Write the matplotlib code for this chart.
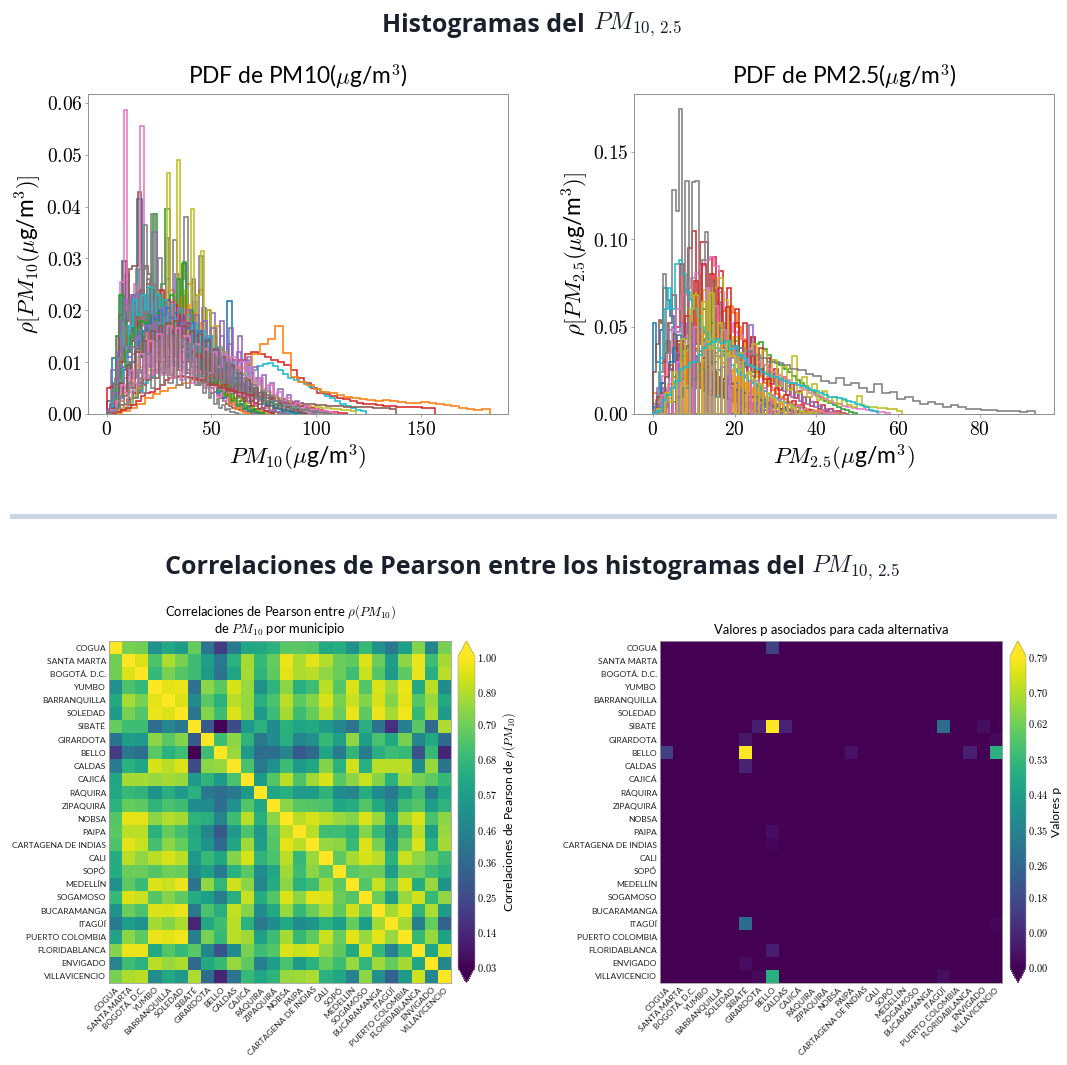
import numpy as np
import matplotlib
matplotlib.use('Agg')
import matplotlib.pyplot as plt
from matplotlib.patches import Rectangle
from matplotlib.ticker import FuncFormatter

plt.rcParams['mathtext.fontset'] = 'cm'
plt.rcParams['font.family'] = ['Lato', 'DejaVu Sans']

municipios = ['COGUA', 'SANTA MARTA', 'BOGOTÁ. D.C.', 'YUMBO', 'BARRANQUILLA', 'SOLEDAD', 'SIBATÉ',
              'GIRARDOTA', 'BELLO', 'CALDAS', 'CAJICÁ', 'RÁQUIRA', 'ZIPAQUIRÁ', 'NOBSA', 'PAIPA',
              'CARTAGENA DE INDIAS', 'CALI', 'SOPÓ', 'MEDELLÍN', 'SOGAMOSO', 'BUCARAMANGA', 'ITAGÜÍ',
              'PUERTO COLOMBIA', 'FLORIDABLANCA', 'ENVIGADO', 'VILLAVICENCIO']

# pearson matrix
corr = [
    [1.00,.80,.79,.52,.62,.56,.77,.40,.20,.43,.60,.62,.65,.75,.75,.74,.62,.63,.53,.68,.53,.42,.58,.82,.47,.80],
    [.79,1.00,.95,.73,.88,.80,.70,.57,.42,.65,.87,.68,.77,.97,.88,.96,.89,.78,.76,.95,.78,.57,.83,.97,.70,.87],
    [.79,.95,1.00,.68,.80,.74,.70,.55,.40,.60,.87,.66,.76,.96,.88,.90,.84,.78,.70,.92,.74,.55,.76,.97,.64,.90],
    [.52,.73,.68,1.00,.96,.97,.40,.83,.75,.94,.85,.53,.66,.83,.64,.70,.90,.74,.95,.74,.95,.86,.97,.62,.90,.50],
    [.62,.87,.80,.96,1.00,.95,.49,.75,.65,.90,.85,.64,.72,.90,.76,.82,.94,.80,.92,.82,.94,.82,.96,.74,.85,.62],
    [.56,.80,.74,.97,.95,1.00,.41,.82,.70,.95,.85,.55,.70,.87,.70,.77,.90,.78,.97,.76,.97,.87,.98,.68,.88,.55],
    [.77,.70,.70,.38,.48,.41,1.00,.30,.03,.25,.55,.65,.50,.65,.60,.62,.55,.48,.40,.64,.40,.16,.45,.75,.36,.88],
    [.40,.57,.55,.83,.75,.82,.30,1.00,.70,.83,.66,.42,.50,.64,.47,.52,.68,.58,.84,.57,.72,.62,.80,.47,.62,.37],
    [.20,.42,.38,.75,.65,.70,.03,.70,1.00,.85,.55,.38,.38,.47,.30,.36,.60,.43,.67,.44,.64,.70,.68,.28,.68,.13],
    [.43,.65,.60,.94,.90,.95,.25,.83,.85,1.00,.72,.42,.52,.70,.55,.60,.82,.65,.93,.64,.90,.90,.90,.50,.85,.40],
    [.60,.87,.87,.85,.87,.85,.55,.66,.55,.72,1.00,.56,.74,.90,.73,.86,.94,.75,.83,.92,.82,.65,.86,.80,.76,.68],
    [.62,.68,.66,.53,.64,.55,.65,.42,.38,.42,.56,1.00,.60,.64,.55,.56,.66,.50,.47,.63,.50,.42,.58,.70,.45,.60],
    [.65,.77,.76,.66,.72,.70,.50,.50,.38,.52,.74,.60,1.00,.83,.75,.74,.72,.61,.63,.74,.62,.50,.70,.74,.57,.66],
    [.74,.96,.96,.83,.89,.87,.66,.64,.47,.70,.90,.64,.83,1.00,.90,.94,.90,.85,.82,.95,.85,.62,.87,.95,.72,.83],
    [.75,.90,.90,.65,.77,.71,.62,.47,.30,.55,.73,.55,.75,.90,1.00,.90,.70,.70,.65,.82,.68,.50,.70,.90,.58,.85],
    [.73,.96,.92,.71,.83,.77,.63,.53,.36,.60,.86,.57,.74,.96,.90,1.00,.85,.83,.68,.95,.80,.54,.78,.95,.65,.87],
    [.63,.90,.84,.90,.94,.90,.55,.68,.60,.82,.94,.66,.72,.90,.68,.85,1.00,.76,.87,.94,.90,.65,.92,.84,.78,.70],
    [.63,.78,.78,.74,.79,.78,.50,.58,.43,.65,.75,.50,.61,.86,.70,.83,.76,1.00,.75,.78,.78,.57,.78,.78,.70,.65],
    [.53,.76,.69,.95,.92,.97,.40,.84,.67,.93,.83,.47,.63,.83,.65,.70,.87,.76,1.00,.74,.92,.76,.95,.63,.85,.53],
    [.68,.95,.92,.74,.82,.76,.63,.57,.44,.64,.92,.63,.74,.95,.83,.96,.95,.78,.74,1.00,.78,.57,.85,.93,.68,.84],
    [.53,.78,.73,.95,.94,.97,.42,.72,.64,.91,.82,.50,.62,.85,.68,.78,.88,.76,.93,.78,1.00,.87,.96,.66,.88,.55],
    [.43,.57,.53,.87,.82,.88,.13,.62,.70,.90,.65,.42,.50,.62,.50,.54,.65,.57,.77,.57,.87,1.00,.87,.45,.77,.33],
    [.59,.83,.76,.97,.96,.98,.45,.80,.68,.90,.86,.58,.70,.87,.68,.76,.92,.78,.96,.85,.96,.85,1.00,.68,.85,.58],
    [.82,.97,.97,.62,.74,.68,.75,.47,.28,.50,.80,.70,.74,.95,.92,.95,.84,.76,.62,.95,.68,.46,.68,1.00,.60,.94],
    [.47,.70,.65,.90,.85,.88,.36,.62,.68,.85,.76,.45,.57,.72,.56,.65,.77,.70,.85,.67,.86,.77,.87,.60,1.00,.48],
    [.80,.88,.90,.50,.62,.55,.88,.37,.13,.40,.68,.60,.66,.85,.86,.88,.65,.60,.46,.83,.52,.33,.56,.93,.48,1.00],
]
corr_ticks = [0.03, 0.14, 0.25, 0.36, 0.46, 0.57, 0.68, 0.79, 0.89, 1.00]

# p values, everything not listed here is zero
p_fila = ['COGUA', 'SIBATÉ', 'SIBATÉ', 'SIBATÉ', 'SIBATÉ', 'SIBATÉ', 'GIRARDOTA', 'GIRARDOTA', 'BELLO', 'BELLO',
          'BELLO', 'BELLO', 'BELLO', 'CALDAS', 'PAIPA', 'CARTAGENA DE INDIAS', 'ITAGÜÍ', 'ITAGÜÍ', 'FLORIDABLANCA',
          'ENVIGADO', 'VILLAVICENCIO', 'VILLAVICENCIO', 'VILLAVICENCIO']
p_columna = ['BELLO', 'GIRARDOTA', 'BELLO', 'CALDAS', 'ITAGÜÍ', 'ENVIGADO', 'SIBATÉ', 'VILLAVICENCIO', 'COGUA', 'SIBATÉ',
             'PAIPA', 'FLORIDABLANCA', 'VILLAVICENCIO', 'SIBATÉ', 'BELLO', 'BELLO', 'SIBATÉ', 'VILLAVICENCIO', 'BELLO',
             'SIBATÉ', 'GIRARDOTA', 'BELLO', 'ITAGÜÍ']
p_valor = [.15, .06, .79, .08, .28, .03, .05, .02, .15, .79, .04, .07, .50, .08, .03, .01, .28, .015, .06, .025, .02, .50, .03]
p_ticks = [0.00, 0.09, 0.18, 0.26, 0.35, 0.44, 0.53, 0.62, 0.70, 0.79]

# PM10 histograms: upper edge of each one and bin heights x 1e4
pm10_max = [96, 84, 100, 157, 108, 75, 80, 88, 80, 124, 75, 68, 76, 80, 84, 138, 100, 64, 119, 90, 95, 183, 110, 115,
            100, 95, 110, 105]
pm10_hist = [
    [25,108,80,295,110,230,415,160,220,150,190,175,205,140,190,120,170,150,160,110,150,95,130,80,218,60,100,45,70,30,40,20,22,12,12,8,6,4,3,2],
    [0,5,12,25,40,60,80,95,115,130,150,170,190,210,235,240,130,180,290,250,255,230,240,160,200,120,170,100,120,70,90,50,60,35,40,22,25,12,12,5,3,1],
    [5,15,40,230,120,170,100,160,110,200,130,385,180,250,395,130,210,120,290,110,170,100,130,80,105,60,80,45,60,35,40,25,28,15,15,10,9,5,5,3,3,2,2,1,1,0,1,0,0,1],
    [0,8,18,28,40,55,70,85,100,110,115,120,125,125,120,115,110,105,105,105,105,115,120,115,110,105,100,95,85,70,60,50,40,38,35,30,28,25,22,20,20,18,16,15,14,14,14,13,12,11],
    [10,85,100,165,270,180,230,150,130,170,350,240,180,260,200,270,150,230,150,215,130,205,110,195,100,180,90,165,80,150,60,110,40,70,30,45,25,30,20,22,15,15,10,10,8,6,5,3,2,1],
    [0,5,30,110,190,295,180,280,285,285,428,280,285,270,240,225,200,210,180,170,160,150,150,130,120,115,100,100,85,80,70,65,55,50,42,36,30,26,20,16,12,10,8,6,5,3,2,1,1,0],
    [0,10,40,150,255,587,200,150,250,200,555,180,260,140,230,120,220,110,200,100,180,90,165,80,150,70,130,60,110,50,90,40,70,32,55,25,40,18,30,12,20,8,14,5,8,3,4,2,1,0],
    [3,10,20,60,130,210,180,200,120,180,365,150,385,180,300,170,340,150,335,160,260,380,170,260,120,305,130,200,100,150,80,120,60,90,45,70,30,50,22,35,15,25,10,15,6,9,3,4,2,1],
    [0,2,5,12,25,40,60,80,70,110,90,130,120,160,130,200,120,220,465,150,230,490,160,240,130,395,110,230,315,100,200,80,170,60,130,50,95,35,70,25,50,18,30,10,15,6,8,3,1,0],
    [0,2,5,10,18,30,45,60,72,80,85,95,105,100,90,85,80,75,72,70,72,75,80,85,82,78,75,78,85,92,96,98,92,85,78,70,65,62,58,52,48,42,35,30,25,20,15,12,8,6],
    [2,8,20,40,60,85,120,160,230,130,180,110,150,120,170,140,200,130,190,130,180,125,170,120,160,110,150,100,130,85,110,70,90,55,70,40,55,30,40,22,30,15,20,10,12,5,8,3,2,1],
    [0,4,10,20,35,50,70,85,100,115,130,120,150,110,170,130,185,140,200,150,205,160,215,165,220,170,225,165,210,150,195,135,175,115,150,95,125,75,100,55,75,35,50,20,30,10,15,5,2,1],
    [2,20,60,150,230,180,100,80,130,160,200,110,230,160,240,130,230,140,220,130,230,150,260,140,293,160,200,120,170,90,150,85,120,60,95,45,70,35,55,25,40,15,25,10,15,6,9,3,1,0],
    [50,52,55,70,100,130,150,140,200,170,240,200,250,180,230,190,240,170,220,160,210,150,190,140,175,120,155,110,135,95,115,80,100,70,85,55,70,45,60,35,45,25,35,15,22,10,12,5,3,1],
    [5,20,60,120,180,220,200,230,190,235,180,225,170,215,160,205,150,195,145,185,140,175,130,165,125,155,115,145,105,130,90,115,75,100,60,85,45,65,35,50,25,35,18,25,10,15,6,8,3,1],
    [2,5,10,18,30,50,70,95,110,120,130,135,140,145,140,130,115,100,90,80,72,65,58,52,48,44,40,36,32,30,28,26,24,22,20,19,18,17,16,15,15,14,14,13,13,13,12,12,12,10],
    [0,2,5,10,18,30,45,55,65,70,75,80,85,88,90,95,92,95,88,85,80,72,68,62,58,55,52,48,45,42,40,38,36,33,30,28,26,24,22,20,17,15,13,11,9,7,5,3,2,1],
    [5,15,40,70,90,110,130,170,120,220,140,280,160,290,170,260,150,250,140,230,130,210,130,190,120,170,110,150,100,130,85,110,70,90,55,70,40,55,30,40,20,28,12,18,7,10,3,4,1,0],
    [0,2,6,12,20,35,50,70,85,100,110,120,130,135,140,150,160,170,165,160,150,140,130,120,110,100,90,80,70,62,55,48,42,36,30,26,23,20,18,16,15,14,13,12,11,10,9,8,7,5],
    [5,15,30,60,90,130,170,220,190,230,200,245,180,230,170,220,160,210,150,200,140,190,130,175,120,160,110,150,95,130,85,115,70,100,60,80,50,65,40,50,30,40,20,28,14,18,8,10,4,2],
    [2,6,15,30,50,75,100,125,140,160,175,190,180,200,190,205,185,195,175,185,165,175,150,160,140,145,120,125,100,105,85,90,70,70,55,52,40,38,28,26,18,16,12,10,6,5,3,2,1,1],
    [0,2,6,12,20,30,38,45,50,55,60,65,70,72,75,78,82,88,95,115,135,145,170,117,72,62,55,48,43,40,36,33,30,28,27,26,27,26,24,22,22,23,21,20,18,16,12,9,8,10],
    [3,20,50,90,120,150,165,180,175,190,180,195,170,175,150,155,130,135,115,115,100,100,85,85,72,72,60,60,50,50,42,40,32,30,25,24,20,18,15,14,12,10,8,7,5,4,3,3,2,1],
    [0,2,4,8,12,18,25,35,40,42,48,55,65,70,72,74,72,70,68,65,62,58,55,52,50,48,45,42,40,38,36,34,32,30,28,26,24,22,20,18,15,13,11,9,7,5,4,3,2,1],
    [5,20,40,90,50,130,70,150,80,170,90,190,100,205,110,215,95,205,100,200,90,190,85,180,80,165,70,150,60,135,50,120,45,105,40,90,35,75,30,60,25,48,20,36,15,25,10,15,5,2],
    [2,10,25,60,35,95,50,120,60,140,65,160,70,170,80,175,75,180,85,170,80,160,70,155,65,140,55,125,50,110,45,95,40,80,30,65,25,50,20,40,15,30,12,22,8,14,5,8,3,1],
    [0,8,25,55,40,85,60,115,70,140,80,155,75,170,70,165,65,150,60,135,70,125,80,120,90,115,100,110,85,100,70,85,55,70,45,55,35,42,25,30,18,22,12,15,8,10,5,6,3,1],
    [0,3,12,35,20,60,30,85,40,115,50,140,55,150,60,150,55,145,50,135,55,130,60,120,65,110,60,100,55,85,45,70,40,55,30,45,25,35,20,25,15,20,10,15,8,10,5,6,2,1],
]

# PM2.5 histograms, same idea
pm25_max = [43, 47, 50, 48, 47, 35, 58, 32, 61, 45, 40, 47, 42, 40, 32, 36, 45, 93.5, 40, 55]
pm25_hist = [
    [520,300,480,720,650,560,300,450,200,380,180,330,150,280,130,250,110,230,100,200,90,170,80,150,70,130,60,115,55,100,50,85,42,70,35,55,28,40,20,30,14,20,10,14,6,9,3,4,2,1],
    [120,50,80,110,140,180,220,260,300,340,380,400,440,460,500,530,560,580,590,600,620,580,500,430,370,320,280,240,210,180,160,135,115,100,85,70,60,50,40,32,26,22,16,12,10,8,5,3,2,1],
    [30,50,70,100,150,180,230,260,300,350,360,400,430,440,470,450,470,420,450,390,420,380,420,390,440,400,410,370,340,310,300,280,260,240,215,195,175,160,140,125,105,90,75,65,50,40,30,22,12,5],
    [30,80,180,350,520,680,500,860,350,950,1050,400,985,985,450,900,420,820,380,720,340,600,310,520,280,440,240,380,200,320,170,260,140,210,110,170,90,130,65,100,45,70,30,50,18,30,10,15,6,2],
    [60,150,290,400,480,500,470,520,430,520,420,500,400,470,380,440,350,420,340,390,320,370,290,350,270,510,250,310,220,280,190,240,160,200,130,160,100,125,75,95,55,70,38,48,25,30,14,18,7,3],
    [240,400,540,520,300,420,250,460,220,400,200,380,170,350,160,330,150,300,140,270,130,240,115,210,100,180,85,150,70,120,55,95,40,70,30,50,20,35,14,24,9,15,5,8,3,4,2,1,1,0],
    [30,100,220,350,480,600,680,720,780,810,850,880,900,850,700,600,520,470,450,410,370,340,300,280,260,240,225,210,195,180,165,150,135,120,110,98,85,75,65,55,48,40,35,30,26,22,18,14,10,4],
    [20,80,240,800,350,520,1280,1160,1745,300,1335,250,1330,1335,400,880,1040,300,760,250,640,200,520,180,420,150,340,120,280,100,220,90,170,70,130,50,90,35,50,20],
    [0,20,50,90,150,230,360,450,690,300,710,280,720,780,650,330,440,250,420,230,400,210,360,190,310,160,270,140,330,120,210,100,170,80,130,70,100,60,80,50,40,105,45,40,38,35,32,30,28,18],
    [10,60,320,600,720,600,860,880,800,700,650,600,560,500,470,430,410,380,360,330,310,280,260,240,225,205,190,175,160,145,130,115,100,90,80,70,62,54,46,38,32,28,22,18,14,10,8,5,3,1],
    [40,0,180,0,300,380,0,420,0,400,0,360,320,0,290,0,250,0,210,180,0,150,0,120,0,100,80,0,60,0,45,0,30,22,0,15,0,8,0,4],
    [20,0,100,0,170,0,250,310,0,350,0,380,0,390,0,360,0,320,290,0,250,0,210,0,180,0,150,0,120,100,0,80,0,60,0,50,0,40,0,30,0,22,0,15,0,8,0,3,0,1],
    [5,0,60,110,0,210,0,330,0,440,0,540,600,0,520,0,490,0,420,0,360,0,290,0,240,190,0,150,0,110,0,85,0,60,0,40,0,25,0,10,0,4],
    [10,0,120,0,260,0,420,0,560,0,760,0,860,0,800,0,720,0,610,0,520,0,420,0,330,0,260,0,200,0,150,0,110,0,75,0,50,0,25,0],
    [0,60,0,150,0,260,0,350,0,440,0,520,0,470,0,420,0,360,0,300,0,270,0,220,0,180,0,140,0,100,0,70,0,50,0,30,0,20,0,8],
    [0,100,0,210,280,0,340,0,390,0,370,0,320,270,0,240,0,200,0,170,140,0,120,0,100,0,80,60,0,45,0,30,0,20,0,10],
    [10,0,110,0,200,0,300,0,410,0,500,0,640,720,0,620,0,480,0,380,0,300,0,240,0,190,0,150,0,110,0,85,0,60,0,45,0,30,0,20,0,12,0,6,2],
    [10,40,70,100,150,200,260,300,330,360,390,380,360,340,320,300,290,280,260,250,230,215,190,175,205,165,175,150,125,170,120,125,85,100,75,55,70,60,40,50,38,30,30,22,25,18,20,15,12,15],
    [0,30,0,120,70,240,0,430,0,600,680,0,640,0,690,0,520,0,420,330,0,350,0,240,200,0,170,0,120,90,0,70,0,50,35,0,20,0,10,5],
    [5,20,80,110,150,190,260,270,290,300,340,380,400,410,430,405,420,370,390,340,320,280,270,260,240,230,215,210,200,190,180,175,165,160,150,140,130,120,110,100,95,90,85,75,70,60,50,40,25,15],
]

W, H = 1067, 1065
fig = plt.figure(figsize=(W / 100, H / 100), dpi=100, facecolor='white')


def px_axes(left, top, right, bottom):
    return fig.add_axes([left / W, 1 - bottom / H, (right - left) / W, (bottom - top) / H])


def histogramas(ax, maximos, alturas, xlim, ylim, yticks, xticks, titulo, xlab, ylab, ypad):
    for i, (top, vals) in enumerate(zip(maximos, alturas)):
        edges = np.linspace(0, top, len(vals) + 1)
        ax.stairs(np.array(vals) / 1e4, edges, color='C%d' % (i % 10), lw=1.15)
    ax.set_xlim(xlim)
    ax.set_ylim(ylim)
    ax.set_xticks(xticks)
    ax.set_yticks(yticks)
    ax.xaxis.set_major_formatter(FuncFormatter(lambda v, p: '$%d$' % v))
    ax.yaxis.set_major_formatter(FuncFormatter(lambda v, p: '$%.2f$' % v))
    ax.tick_params(labelsize=14, length=2, width=0.5, color='#808080', pad=2)
    for s in ax.spines.values():
        s.set_linewidth(0.7)
        s.set_color('#909090')
    ax.set_title(titulo, fontsize=16.4, pad=7)
    ax.set_xlabel(xlab, fontsize=16.5, labelpad=4)
    ax.set_ylabel(ylab, fontsize=16.3, labelpad=ypad)


def mapa(ax, cax, datos, vmin, vmax, ticks, titulo, cbar_label, ticks_fmt):
    im = ax.imshow(datos, cmap='viridis', vmin=vmin, vmax=vmax, aspect='auto', interpolation='nearest')
    ax.set_xticks(range(len(municipios)))
    ax.set_yticks(range(len(municipios)))
    ax.set_xticklabels(municipios, rotation=45, ha='right', rotation_mode='anchor', fontsize=6.1, color='#222222')
    ax.set_yticklabels(municipios, fontsize=6.1, color='#222222')
    ax.tick_params(length=0, pad=2)
    for s in ax.spines.values():
        s.set_linewidth(0.6)
        s.set_color('#a0a0a0')
    ax.set_title(titulo, fontsize=9.4, pad=5, linespacing=1.1)
    cb = fig.colorbar(im, cax=cax, extend='both', ticks=ticks)
    cb.ax.set_yticklabels([ticks_fmt % t for t in ticks], fontsize=7.5)
    cb.ax.tick_params(length=0, pad=1.5)
    cb.outline.set_linewidth(0.4)
    cb.outline.set_edgecolor('#a0a0a0')
    cb.set_label(cbar_label, fontsize=8.7, labelpad=2)


# page headings: bold text plus the math part next to it
bold_font = dict(family=['Open Sans', 'DejaVu Sans'], weight='bold', fontsize=18, color='#1a202c', va='center')
fig.text(585 / W, 1 - 25 / H, 'Histogramas del', ha='right', **bold_font)
fig.text(593 / W, 1 - 25 / H, r'$PM_{10,\,2.5}$', ha='left', va='center', fontsize=17.5, color='#1a202c')
fig.text(805 / W, 1 - 568 / H, 'Correlaciones de Pearson entre los histogramas del', ha='right', **bold_font)
fig.text(811 / W, 1 - 568 / H, r'$PM_{10,\,2.5}$', ha='left', va='center', fontsize=17.5, color='#1a202c')
fig.add_artist(Rectangle((10 / W, 1 - 519 / H), 1047 / W, 5 / H, transform=fig.transFigure, color='#c9d8e4', lw=0))

ax1 = px_axes(88, 94, 508, 414)
histogramas(ax1, pm10_max, pm10_hist, (-9.0, 191.7), (0, 0.0617), [0, .01, .02, .03, .04, .05, .06], [0, 50, 100, 150],
            r'PDF de PM10($\mu$g/m$^3$)', r'$PM_{10}(\mu$g/m$^3)$', r'$\rho[PM_{10}(\mu$g/m$^3)]$', 2)

ax2 = px_axes(634, 94, 1054, 414)
histogramas(ax2, pm25_max, pm25_hist, (-4.6, 98.2), (0, 0.1832), [0, .05, .10, .15], [0, 20, 40, 60, 80],
            r'PDF de PM2.5($\mu$g/m$^3$)', r'$PM_{2.5}(\mu$g/m$^3)$', r'$\rho[PM_{2.5}(\mu$g/m$^3)]$', 1)

ax3 = px_axes(109, 641, 451, 983)
cax3 = px_axes(458, 641, 475, 983)
mapa(ax3, cax3, corr, corr_ticks[0], corr_ticks[-1], corr_ticks,
     'Correlaciones de Pearson entre $\\rho(PM_{10})$\nde $PM_{10}$ por municipio',
     r'Correlaciones de Pearson de $\rho(PM_{10})$', '$%.2f$')

# p matrix from the sparse lists
pvals = np.zeros((len(municipios), len(municipios)))
for f, c, v in zip(p_fila, p_columna, p_valor):
    pvals[municipios.index(f), municipios.index(c)] = v

ax4 = px_axes(660, 641, 1002, 983)
cax4 = px_axes(1010, 641, 1026, 983)
mapa(ax4, cax4, pvals, p_ticks[0], p_ticks[-1], p_ticks,
     'Valores p asociados para cada alternativa', 'Valores p', '$%.2f$')

fig.savefig('out.png', dpi=100)
